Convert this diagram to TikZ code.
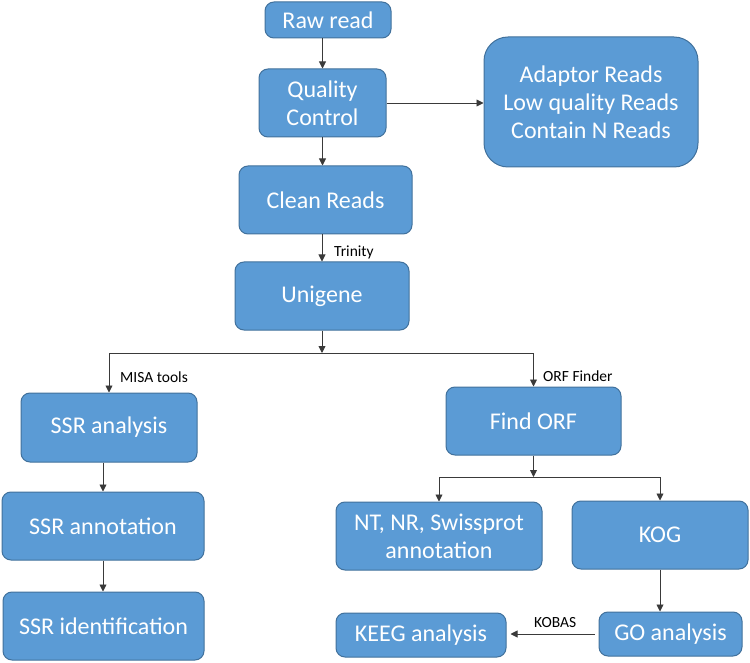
\documentclass[tikz,border=0pt]{standalone}
\usepackage{fontspec}
\setmainfont{Carlito}
\usepackage{tikz}
\usetikzlibrary{arrows.meta}

\definecolor{boxfill}{HTML}{5B9BD5}
\definecolor{boxline}{HTML}{41719C}
\definecolor{linecol}{HTML}{3A3A3A}

\tikzset{
    stepbox/.style={shape=rectangle, rounded corners=9pt, fill=boxfill, draw=boxline, line width=1pt,
        text=white, align=center, inner sep=0pt, font=\fontsize{24}{28}\selectfont},
    flowline/.style={color=linecol, line width=0.9pt},
    flowarrow/.style={flowline, arrows={-Triangle[length=7pt, width=7pt]}},
    toollabel/.style={anchor=west, inner sep=0pt, font=\fontsize{15.5}{18}\selectfont}
}

\begin{document}
\begin{tikzpicture}[x=1pt, y=-1pt]
    \useasboundingbox (0,0) rectangle (750,663);

    % Main trunk
    \node[stepbox, minimum width=126pt, minimum height=36pt] (raw) at ({328}, {20}) {Raw read};
    \node[stepbox, minimum width=127pt, minimum height=68pt] (qc) at ({322.5}, {103}) {Quality\\Control};
    \node[stepbox, minimum width=214pt, minimum height=130pt, rounded corners=24pt] (filtered) at ({591}, {102})
        {Adaptor Reads\\Low quality Reads\\Contain N Reads};
    \node[stepbox, minimum width=173pt, minimum height=68pt] (clean) at ({325.5}, {200}) {Clean Reads};
    \node[stepbox, minimum width=174pt, minimum height=68pt] (unigene) at ({322}, {296}) {Unigene};

    % SSR branch
    \node[stepbox, minimum width=176pt, minimum height=69pt] (ssranalysis) at ({109}, {427.5}) {SSR analysis};
    \node[stepbox, minimum width=202pt, minimum height=68pt] (ssrannot) at ({103}, {526}) {SSR annotation};
    \node[stepbox, minimum width=201pt, minimum height=68pt] (ssrident) at ({103.5}, {626}) {SSR identification};

    % ORF branch
    \node[stepbox, minimum width=175pt, minimum height=68pt] (findorf) at ({533.5}, {421}) {Find ORF};
    \node[stepbox, minimum width=206pt, minimum height=68pt] (ntnr) at ({439}, {536}) {NT, NR, Swissprot\\annotation};
    \node[stepbox, minimum width=176pt, minimum height=68pt] (kog) at ({660}, {535}) {KOG};
    \node[stepbox, minimum width=143pt, minimum height=44pt] (goana) at ({670.5}, {634}) {GO analysis};
    \node[stepbox, minimum width=170pt, minimum height=44pt] (keeg) at ({421}, {635}) {KEEG analysis};

    % Branch points
    \coordinate (split1) at ({322}, {353});
    \coordinate (split2) at ({533.5}, {477});

    % Tool labels
    \node[toollabel] (trinity) at ({334}, {252}) {Trinity};
    \node[toollabel] (misa) at ({120}, {377}) {MISA tools};
    \node[toollabel] (orffinder) at ({543}, {376}) {ORF Finder};
    \node[toollabel] (kobas) at ({534}, {623}) {KOBAS};

    % Connectors
    \draw[flowarrow] (raw.south -| qc.north) -- (qc.north);
    \draw[flowarrow] (qc.east) -- (qc.east -| filtered.west);
    \draw[flowarrow] (qc.south) -- (qc.south |- clean.north);
    \draw[flowarrow] (clean.south -| unigene.north) -- (unigene.north);
    \draw[flowarrow] (unigene.south) -- (split1);
    \draw[flowarrow] (split1) -| (ssranalysis.north);
    \draw[flowarrow] (split1) -| (findorf.north);
    \draw[flowarrow] (ssranalysis.south -| ssrannot.north) -- (ssrannot.north);
    \draw[flowarrow] (ssrannot.south) -- (ssrannot.south |- ssrident.north);
    \draw[flowarrow] (findorf.south) -- (split2);
    \draw[flowarrow] (split2) -| (ntnr.north);
    \draw[flowarrow] (split2) -| (kog.north);
    \draw[flowarrow] (kog.south) -- (kog.south |- goana.north);
    \draw[flowarrow, shorten <=4pt, shorten >=4pt] (goana.west) -- (goana.west -| keeg.east);
\end{tikzpicture}
\end{document}
